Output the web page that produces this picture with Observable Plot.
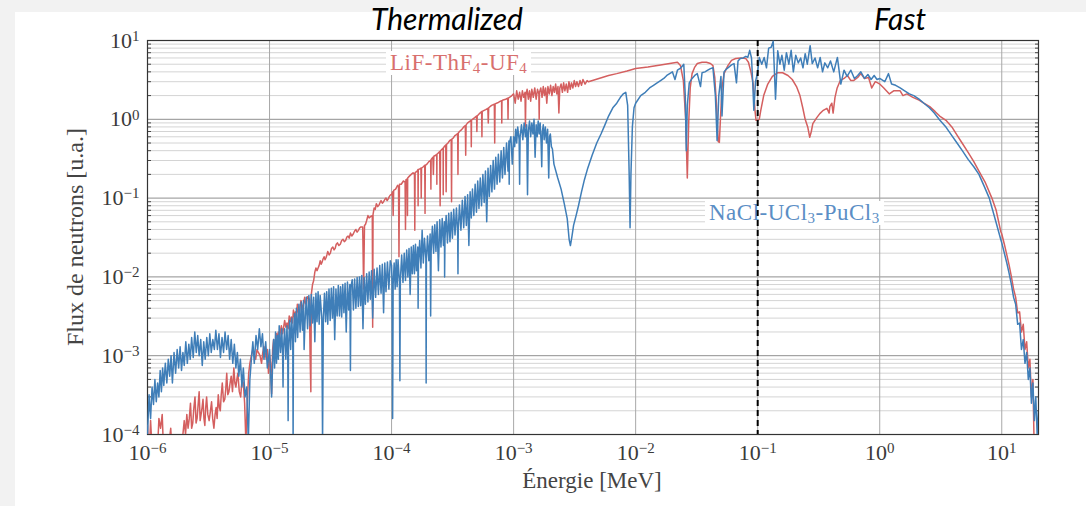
<!DOCTYPE html>
<html><head><meta charset="utf-8">
<script src="https://cdn.jsdelivr.net/npm/d3@7"></script>
<script src="https://cdn.jsdelivr.net/npm/@observablehq/plot@0.6"></script>
<style>
body{margin:0;background:#f2f2f2;}
#wrap{position:relative;width:1086px;height:506px;overflow:hidden;}
#panel{position:absolute;left:15px;top:12px;right:0;bottom:0;background:#fff;}
.layer{position:absolute;left:0;top:0;}
.zone{position:absolute;font-family:Lato,"Open Sans",sans-serif;font-style:italic;font-size:30px;line-height:30px;color:#000;transform:translateX(-50%);white-space:nowrap;}
.lab{position:absolute;background:#fff;font-family:"Liberation Serif",serif;font-size:23px;letter-spacing:0.5px;line-height:24px;padding:0 4px;white-space:nowrap;}
.lab sub{font-size:15px;vertical-align:-3px;line-height:0;}
.axlab{position:absolute;font-family:"Liberation Serif",serif;color:#444;white-space:nowrap;}
</style></head>
<body><div id="wrap"><div id="panel"></div></div>
<script>
// ---------- data ----------
const xTicks = [1e-6,1e-5,1e-4,1e-3,1e-2,1e-1,1e0,1e1];
const yTicks = [1e-4,1e-3,1e-2,1e-1,1e0,1e1];
const yMinorMantissas = [2,3,4,5,6,7,8,9];
const fastThreshold = 0.1; // MeV
const zoneLabels = ["Thermalized","Fast"];
const seriesNames = ["LiF-ThF<sub>4</sub>-UF<sub>4</sub>","NaCl-UCl<sub>3</sub>-PuCl<sub>3</sub>"];
const axisLabels = {x:"Énergie [MeV]", y:"Flux de neutrons [u.a.]"};

// NaCl-UCl3-PuCl3 : [energy MeV, flux]
const naclFlux = [
[1e-6,1e-4],[1.03e-6,3.2e-4],[1.06e-6,1.6e-4],[1.09e-6,4e-4],[1.12e-6,2.4e-4],[1.15e-6,5e-4],[1.18e-6,2.6e-4],[1.21e-6,4.5e-4],[1.24e-6,3e-4],[1.27e-6,6.5e-4],[1.3e-6,3.5e-4],[1.33e-6,7e-4],[1.36e-6,4.2e-4],[1.4e-6,8e-4],[1.44e-6,4.5e-4],[1.48e-6,9e-4],[1.52e-6,5.5e-4],[1.56e-6,1e-3],[1.6e-6,4.5e-4],[1.65e-6,1.1e-3],[1.7e-6,6e-4],[1.75e-6,1.2e-3],[1.8e-6,7e-4],[1.85e-6,1.3e-3],[1.9e-6,6.5e-4],[1.95e-6,1.1e-3],[2e-6,7.5e-4],[2.06e-6,1.5e-3],[2.12e-6,8e-4],[2.18e-6,1.4e-3],[2.24e-6,9e-4],[2.3e-6,1.7e-3],[2.37e-6,9.5e-4],[2.44e-6,2e-3],[2.51e-6,1.1e-3],[2.58e-6,1.8e-3],[2.65e-6,1e-3],[2.73e-6,1.6e-3],[2.81e-6,7.5e-4],[2.89e-6,1.5e-3],[2.97e-6,9e-4],[3.06e-6,1.7e-3],[3.15e-6,1e-3],[3.24e-6,1.9e-3],[3.33e-6,1.1e-3],[3.43e-6,1.6e-3],[3.53e-6,1.2e-3],[3.63e-6,2.1e-3],[3.74e-6,1.2e-3],[3.85e-6,1.9e-3],[3.96e-6,9.5e-4],[4.08e-6,1.7e-3],[4.2e-6,1.1e-3],[4.32e-6,2e-3],[4.45e-6,1.2e-3],[4.58e-6,1.8e-3],[4.71e-6,9e-4],[4.85e-6,1.6e-3],[5e-6,8e-4],[5.15e-6,1.4e-3],[5.3e-6,7e-4],[5.45e-6,1.1e-3],[5.6e-6,5.5e-4],[5.77e-6,9e-4],[5.94e-6,4e-4],[6.1e-6,7e-4],[6.3e-6,3e-4],[6.5e-6,4e-4],[6.7e-6,8e-5],[6.9e-6,5e-4],[7.1e-6,9e-4],[7.3e-6,1.5e-3],[7.5e-6,8e-4],[7.75e-6,1.8e-3],[8e-6,1.2e-3],[8.25e-6,2.2e-3],[8.5e-6,1.3e-3],[8.75e-6,1.9e-3],[9e-6,9e-4],[9.3e-6,1.5e-3],[9.6e-6,7e-4],
[1e-5,1.2e-3],[1.02e-5,6e-4],[1.04e-5,3e-4],[1.06e-5,8e-4],[1.08e-5,1.6e-3],[1.1e-5,7e-4],[1.12e-5,2e-3],[1.14e-5,8e-4],[1.16e-5,1.8e-3],[1.18e-5,9e-4],[1.2e-5,2.4e-3],[1.23e-5,1.1e-3],[1.26e-5,2.2e-3],[1.28e-5,1e-3],[1.29e-5,4e-4],[1.3e-5,1.2e-3],[1.33e-5,2.2e-3],[1.36e-5,9e-4],[1.39e-5,2.4e-3],[1.41e-5,1e-3],[1.42e-5,1.5e-4],[1.43e-5,1.2e-3],[1.46e-5,2.8e-3],[1.49e-5,1.2e-3],[1.52e-5,3e-3],[1.55e-5,1.5e-3],[1.56e-5,8e-5],[1.57e-5,1.8e-3],[1.6e-5,3.4e-3],[1.63e-5,1.5e-3],[1.66e-5,4e-3],[1.7e-5,1.7e-3],[1.74e-5,4.5e-3],[1.78e-5,2e-3],[1.82e-5,4.8e-3],[1.86e-5,2.1e-3],[1.9e-5,5e-3],[1.92e-5,1.2e-3],[1.95e-5,2.5e-3],[2e-5,5.5e-3],[2.05e-5,2.2e-3],[2.1e-5,5.8e-3],[2.15e-5,2.4e-3],[2.2e-5,6e-3],[2.25e-5,2.6e-3],[2.3e-5,5.5e-3],[2.35e-5,1.5e-3],[2.4e-5,6.2e-3],[2.45e-5,2.7e-3],[2.5e-5,6.5e-3],[2.55e-5,2.5e-3],[2.6e-5,5.8e-3],[2.68e-5,3e-3],[2.72e-5,8e-5],[2.76e-5,3e-3],[2.82e-5,6.2e-3],[2.88e-5,2.7e-3],[2.94e-5,6.5e-3],[3e-5,2.5e-3],[3.07e-5,7e-3],[3.14e-5,2.8e-3],[3.21e-5,7.2e-3],[3.28e-5,3e-3],[3.35e-5,7.5e-3],[3.42e-5,1.6e-3],[3.5e-5,7e-3],[3.58e-5,3.2e-3],[3.66e-5,7.8e-3],[3.74e-5,3.2e-3],[3.82e-5,7.5e-3],[3.9e-5,3.1e-3],[3.98e-5,8e-3],[4.07e-5,3.5e-3],[4.16e-5,8.3e-3],[4.25e-5,2e-3],[4.35e-5,8.6e-3],[4.45e-5,3.8e-3],[4.55e-5,8e-3],[4.6e-5,6.5e-4],[4.65e-5,7.5e-3],[4.76e-5,9.2e-3],[4.87e-5,3.8e-3],[4.98e-5,9.4e-3],[5.1e-5,4e-3],[5.22e-5,9.8e-3],[5.34e-5,4.2e-3],[5.46e-5,1e-2],[5.58e-5,4.3e-3],[5.7e-5,1.04e-2],[5.83e-5,2.2e-3],[5.96e-5,9.8e-3],[6.1e-5,4.5e-3],[6.25e-5,1.1e-2],[6.4e-5,4.8e-3],[6.55e-5,1.15e-2],[6.7e-5,5.2e-3],[6.85e-5,1.2e-2],[7e-5,3e-3],[7.2e-5,1.25e-2],[7.4e-5,5.5e-3],[7.6e-5,1.3e-2],[7.8e-5,6e-3],[8e-5,1.4e-2],[8.2e-5,6.2e-3],[8.4e-5,1.45e-2],[8.6e-5,3.5e-3],[8.8e-5,1.5e-2],[9e-5,6.5e-3],[9.25e-5,1.55e-2],[9.5e-5,7e-3],[9.75e-5,1.6e-2],
[1e-4,1.4e-2],[1.01e-4,8e-3],[1.02e-4,1.6e-4],[1.03e-4,8e-3],[1.05e-4,1.5e-2],[1.07e-4,7e-3],[1.09e-4,1.65e-2],[1.11e-4,7.5e-3],[1.13e-4,1.65e-2],[1.16e-4,8.5e-3],[1.17e-4,4.8e-4],[1.18e-4,9e-3],[1.21e-4,1.9e-2],[1.24e-4,8.5e-3],[1.27e-4,2e-2],[1.3e-4,9e-3],[1.33e-4,2.2e-2],[1.36e-4,1e-2],[1.39e-4,2.3e-2],[1.42e-4,6e-3],[1.45e-4,2.4e-2],[1.48e-4,1.1e-2],[1.51e-4,2.5e-2],[1.54e-4,1.1e-2],[1.57e-4,2.6e-2],[1.6e-4,1.2e-2],[1.64e-4,2.4e-2],[1.65e-4,4e-3],[1.66e-4,1.4e-2],[1.7e-4,2.9e-2],[1.74e-4,1.3e-2],[1.78e-4,3.9e-2],[1.82e-4,1.5e-2],[1.86e-4,3.1e-2],[1.91e-4,1.7e-2],[1.92e-4,4.5e-4],[1.93e-4,1.7e-2],[1.97e-4,3.3e-2],[2.02e-4,1.6e-2],[2.07e-4,3.5e-2],[2.09e-4,3.2e-3],[2.11e-4,2.1e-2],[2.16e-4,4.4e-2],[2.21e-4,2e-2],[2.26e-4,4.6e-2],[2.31e-4,2.1e-2],[2.36e-4,5e-2],[2.42e-4,1.2e-2],[2.48e-4,5.3e-2],[2.54e-4,2.4e-2],[2.6e-4,5.5e-2],[2.66e-4,2.5e-2],[2.71e-4,5e-2],[2.72e-4,1e-2],[2.74e-4,3e-2],[2.8e-4,6e-2],[2.87e-4,2.7e-2],[2.94e-4,6.4e-2],[3.01e-4,2.8e-2],[3.08e-4,6.6e-2],[3.15e-4,3.1e-2],[3.23e-4,7.2e-2],[3.31e-4,3.4e-2],[3.4e-4,7.5e-2],[3.48e-4,3.5e-2],[3.5e-4,1.1e-2],[3.52e-4,3.9e-2],[3.6e-4,8.2e-2],[3.7e-4,3.9e-2],[3.8e-4,9.4e-2],[3.9e-4,4.2e-2],[4e-4,1.05e-1],[4.1e-4,4.5e-2],[4.2e-4,1.1e-1],[4.3e-4,2.5e-2],[4.4e-4,1.2e-1],[4.5e-4,5.6e-2],[4.6e-4,1.3e-1],[4.72e-4,6e-2],[4.84e-4,1.5e-1],[4.96e-4,6.6e-2],[5.08e-4,1.65e-1],[5.2e-4,7.4e-2],[5.33e-4,1.8e-1],[5.46e-4,8e-2],[5.6e-4,2e-1],[5.74e-4,8.8e-2],[5.88e-4,2.2e-1],[6.02e-4,5e-2],[6.17e-4,2.4e-1],[6.32e-4,1.05e-1],[6.48e-4,2.6e-1],[6.64e-4,1.2e-1],[6.8e-4,3e-1],[6.97e-4,1.3e-1],[7.14e-4,3.3e-1],[7.32e-4,1.5e-1],[7.5e-4,3.6e-1],[7.7e-4,1.6e-1],[7.9e-4,4e-1],[8.1e-4,1.8e-1],[8.3e-4,4.4e-1],[8.5e-4,2e-1],[8.75e-4,5e-1],[9e-4,2.2e-1],[9.15e-4,5.3e-1],[9.2e-4,1.5e-1],[9.25e-4,5e-1],[9.5e-4,6e-1],[9.75e-4,2.7e-1],
[1e-3,0.6],[1.02e-3,0.45],[1.04e-3,0.75],[1.06e-3,0.5],[1.08e-3,0.8],[1.11e-3,0.55],[1.12e-3,0.15],[1.13e-3,0.6],[1.16e-3,0.85],[1.19e-3,0.55],[1.22e-3,0.9],[1.25e-3,0.6],[1.28e-3,0.85],[1.3e-3,0.11],[1.32e-3,0.7],[1.35e-3,0.95],[1.38e-3,0.6],[1.41e-3,0.9],[1.44e-3,0.65],[1.47e-3,1.0],[1.5e-3,0.33],[1.53e-3,0.85],[1.56e-3,0.6],[1.59e-3,0.95],[1.62e-3,0.65],[1.65e-3,0.9],[1.68e-3,0.5],[1.7e-3,0.25],[1.72e-3,0.7],[1.75e-3,0.85],[1.78e-3,0.55],[1.82e-3,0.8],[1.86e-3,0.5],[1.9e-3,0.75],[1.94e-3,0.18],[1.97e-3,0.6],[2e-3,0.65],[2.04e-3,0.45],[2.08e-3,0.42],[2.14e-3,0.27],[2.3e-3,0.18],[2.45e-3,0.13],[2.6e-3,0.085],[2.75e-3,0.055],[2.85e-3,0.03],[2.92e-3,0.025],[3e-3,0.032],[3.1e-3,0.045],[3.25e-3,0.06],[3.4e-3,0.08],[3.6e-3,0.12],[3.8e-3,0.17],[4.05e-3,0.24],[4.4e-3,0.35],[4.8e-3,0.5],[5.2e-3,0.65],[5.6e-3,0.85],[6e-3,1.1],[6.5e-3,1.4],[7e-3,1.6],[7.5e-3,1.9],[7.9e-3,2.1],[8.3e-3,2.2],[8.6e-3,1.5],[8.85e-3,0.2],[9e-3,0.042],[9.15e-3,0.2],[9.4e-3,0.8],[9.7e-3,1.4],
[1e-2,1.6],[1.1e-2,2.0],[1.2e-2,2.2],[1.3e-2,2.5],[1.4e-2,2.7],[1.5e-2,2.9],[1.6e-2,3.1],[1.7e-2,3.3],[1.8e-2,3.6],[1.9e-2,3.8],[2e-2,4.0],[2.1e-2,3.2],[2.2e-2,4.2],[2.35e-2,4.5],[2.48e-2,5.0],[2.55e-2,2.0],[2.6e-2,0.4],[2.65e-2,1.5],[2.75e-2,2.9],[2.9e-2,3.3],[3.05e-2,3.6],[3.2e-2,3.8],[3.4e-2,2.6],[3.5e-2,3.9],[3.7e-2,4.0],[3.9e-2,4.2],[4.1e-2,4.4],[4.3e-2,4.5],[4.5e-2,2.0],[4.65e-2,0.54],[4.8e-2,2.0],[5e-2,3.5],[5.1e-2,1.1],[5.3e-2,4.0],[5.5e-2,4.3],[5.8e-2,4.6],[6.1e-2,4.9],[6.4e-2,5.1],[6.7e-2,2.9],[6.9e-2,5.5],[7.2e-2,5.9],[7.6e-2,6.0],[8e-2,6.3],[8.3e-2,6.1],[8.6e-2,7.5],[8.9e-2,6.0],[9.1e-2,3.0],[9.3e-2,1.3],[9.6e-2,3.0],
[0.1,4.0],[0.103,6.1],[0.108,5.0],[0.113,6.1],[0.118,4.5],[0.123,8.0],[0.129,8.2],[0.134,9.8],[0.14,1.8],[0.146,7.4],[0.152,5.0],[0.158,6.5],[0.165,4.2],[0.172,7.0],[0.18,5.0],[0.188,7.5],[0.196,4.0],[0.205,6.5],[0.215,5.2],[0.225,6.0],[0.235,4.5],[0.245,6.8],[0.255,5.0],[0.269,8.6],[0.28,5.1],[0.295,6.0],[0.31,4.5],[0.325,6.1],[0.34,4.0],[0.355,5.2],[0.375,4.5],[0.395,5.5],[0.42,4.0],[0.45,6.1],[0.48,2.8],[0.51,4.2],[0.54,3.5],[0.58,4.2],[0.62,3.3],[0.66,3.6],[0.7,4.0],[0.75,3.3],[0.8,3.7],[0.85,3.2],[0.9,3.6],[0.95,3.2],
[1.0,3.3],[1.1,3.0],[1.18,3.8],[1.25,2.8],[1.35,2.7],[1.47,2.5],[1.6,2.3],[1.75,2.1],[1.9,2.0],[2.1,1.8],[2.3,1.6],[2.55,1.4],[2.8,1.2],[3.1,0.98],[3.5,0.79],[3.9,0.62],[4.3,0.5],[4.75,0.4],[5.3,0.31],[5.9,0.25],[6.5,0.2],[7.2,0.14],[7.9,0.1],[8.8,0.055],[9.8,0.03],
[10,2.7e-2],[10.5,2e-2],[11,1.5e-2],[11.5,1.1e-2],[12,8e-3],[12.5,5.5e-3],[13,4.5e-3],[13.5,2.5e-3],[14,2.6e-3],[14.5,1.2e-3],[15,1.6e-3],[15.5,8e-4],[16,1.1e-3],[16.5,5e-4],[17,7e-4],[17.5,2.5e-4],[18,4.5e-4],[18.5,1.5e-4],[19,3e-4],[19.5,1e-4],[20,2e-4]
];

// LiF-ThF4-UF4 : [energy MeV, flux]
const lifFlux = [
[1e-6,1.3e-4],[1.03e-6,5e-5],[1.06e-6,1.5e-4],[1.1e-6,5e-5],[1.2e-6,5e-5],[1.24e-6,1.6e-4],[1.28e-6,1.2e-4],[1.32e-6,1.8e-4],[1.36e-6,5e-5],[1.45e-6,5e-5],[1.55e-6,1.2e-4],[1.6e-6,5e-5],[1.8e-6,5e-5],[1.95e-6,1e-4],[2e-6,1.5e-4],[2.05e-6,1e-4],[2.1e-6,1.8e-4],[2.15e-6,1.2e-4],[2.2e-6,1.6e-4],[2.25e-6,2.5e-4],[2.3e-6,1.2e-4],[2.35e-6,1.4e-4],[2.4e-6,2.2e-4],[2.45e-6,3e-4],[2.5e-6,1.4e-4],[2.55e-6,1.6e-4],[2.6e-6,2.4e-4],[2.65e-6,3.5e-4],[2.7e-6,1.5e-4],[2.75e-6,1.8e-4],[2.8e-6,2.2e-4],[2.85e-6,2.8e-4],[2.9e-6,1.6e-4],[2.95e-6,1.3e-4],[3e-6,2.2e-4],[3.05e-6,3e-4],[3.12e-6,1.8e-4],[3.2e-6,1.5e-4],[3.28e-6,2e-4],[3.35e-6,2.6e-4],[3.42e-6,1.6e-4],[3.5e-6,1.2e-4],[3.58e-6,1.8e-4],[3.65e-6,2.2e-4],[3.72e-6,1.6e-4],[3.8e-6,3.2e-4],[3.88e-6,2.2e-4],[3.95e-6,2e-4],[4.02e-6,3.2e-4],[4.1e-6,4.5e-4],[4.2e-6,2.6e-4],[4.3e-6,2.8e-4],[4.38e-6,3.8e-4],[4.46e-6,6e-4],[4.55e-6,3.2e-4],[4.65e-6,3.5e-4],[4.75e-6,4.5e-4],[4.85e-6,5.5e-4],[4.97e-6,3.5e-4],[5.1e-6,7e-4],[5.2e-6,4.5e-4],[5.3e-6,4e-4],[5.4e-6,5e-4],[5.5e-6,6e-4],[5.65e-6,3.5e-4],[5.8e-6,3e-4],[5.95e-6,5e-4],[6.1e-6,4.5e-4],[6.25e-6,2.5e-4],[6.4e-6,8e-5],[6.6e-6,3e-4],[6.75e-6,6e-4],[6.9e-6,8e-4],[7.1e-6,1e-3],[7.3e-6,1.2e-3],[7.5e-6,1e-3],[7.7e-6,9e-4],[7.9e-6,1.2e-3],[8.1e-6,1.1e-3],[8.35e-6,1e-3],[8.6e-6,8e-4],[8.8e-6,1.1e-3],[9e-6,1.3e-3],[9.2e-6,1.1e-3],[9.4e-6,9e-4],[9.6e-6,1.2e-3],[9.8e-6,6e-4],
[1e-5,1e-3],[1.02e-5,8e-4],[1.04e-5,3.3e-4],[1.06e-5,1.2e-3],[1.08e-5,1.6e-3],[1.1e-5,1.2e-3],[1.12e-5,1.4e-3],[1.14e-5,1.9e-3],[1.16e-5,1.7e-3],[1.18e-5,2e-3],[1.2e-5,1.6e-3],[1.23e-5,2.1e-3],[1.25e-5,2.4e-3],[1.28e-5,1.9e-3],[1.3e-5,2.2e-3],[1.33e-5,2.8e-3],[1.36e-5,2.3e-3],[1.39e-5,2.6e-3],[1.42e-5,2.2e-3],[1.45e-5,3.2e-3],[1.48e-5,2.7e-3],[1.51e-5,3.1e-3],[1.54e-5,2.6e-3],[1.57e-5,3.8e-3],[1.6e-5,3.1e-3],[1.63e-5,3.6e-3],[1.66e-5,3e-3],[1.69e-5,4.5e-3],[1.72e-5,3.6e-3],[1.75e-5,3.4e-3],[1.78e-5,4.2e-3],[1.81e-5,5e-3],[1.85e-5,4.2e-3],[1.88e-5,3.8e-3],[1.91e-5,4.8e-3],[1.94e-5,5.5e-3],[1.97e-5,4.6e-3],[2e-5,4.5e-3],[2.04e-5,5.6e-3],[2.08e-5,5.5e-3],[2.12e-5,5.2e-3],[2.15e-5,1e-3],[2.18e-5,3.5e-4],[2.2e-5,6e-3],[2.25e-5,8e-3],[2.3e-5,9e-3],[2.35e-5,1.15e-2],[2.4e-5,1.3e-2],[2.45e-5,1.2e-2],[2.5e-5,1.3e-2],[2.55e-5,1.4e-2],[2.6e-5,1.6e-2],[2.65e-5,1.45e-2],[2.7e-5,1.55e-2],[2.75e-5,1.7e-2],[2.8e-5,1.8e-2],[2.85e-5,1.65e-2],[2.9e-5,1.75e-2],[2.95e-5,1.9e-2],[3e-5,2.1e-2],[3.08e-5,1.9e-2],[3.15e-5,2e-2],[3.22e-5,2.3e-2],[3.3e-5,2.4e-2],[3.38e-5,2.2e-2],[3.45e-5,2.3e-2],[3.52e-5,2.6e-2],[3.6e-5,2.7e-2],[3.7e-5,2.5e-2],[3.8e-5,2.6e-2],[3.9e-5,2.9e-2],[4e-5,3e-2],[4.1e-5,2.8e-2],[4.2e-5,2.9e-2],[4.3e-5,3.2e-2],[4.4e-5,3.3e-2],[4.5e-5,3.1e-2],[4.6e-5,3.6e-2],[4.72e-5,3.3e-2],[4.85e-5,3.5e-2],[4.97e-5,3.8e-2],[5.1e-5,4e-2],[5.22e-5,3.7e-2],[5.35e-5,3.9e-2],[5.48e-5,4.2e-2],[5.6e-5,4.3e-2],[5.8e-5,4.3e-2],[5.9e-5,7e-3],[6e-5,4.5e-2],[6.1e-5,4.6e-2],[6.25e-5,5.2e-2],[6.4e-5,6e-2],[6.55e-5,5.6e-2],[6.7e-5,5.8e-2],[6.95e-5,6e-2],[7e-5,2.3e-3],[7.05e-5,6.2e-2],[7.2e-5,7.5e-2],[7.35e-5,7.2e-2],[7.5e-5,8.5e-2],[7.7e-5,7.8e-2],[7.9e-5,8.2e-2],[8.05e-5,8.8e-2],[8.2e-5,9.3e-2],[8.4e-5,8.6e-2],[8.6e-5,9e-2],[8.8e-5,9.6e-2],[9e-5,1e-1],[9.2e-5,9.3e-2],[9.4e-5,9.8e-2],[9.6e-5,1.05e-1],[9.8e-5,1.1e-1],
[1e-4,0.11],[1.02e-4,0.12],[1.03e-4,0.06],[1.04e-4,0.125],[1.08e-4,0.13],[1.12e-4,0.145],[1.14e-4,0.14],[1.15e-4,0.018],[1.16e-4,0.15],[1.2e-4,0.15],[1.25e-4,0.165],[1.29e-4,0.16],[1.3e-4,0.04],[1.31e-4,0.17],[1.345e-4,0.175],[1.35e-4,0.06],[1.355e-4,0.18],[1.4e-4,0.19],[1.45e-4,0.2],[1.5e-4,0.21],[1.54e-4,0.2],[1.55e-4,0.039],[1.56e-4,0.21],[1.62e-4,0.22],[1.645e-4,0.23],[1.65e-4,0.08],[1.655e-4,0.23],[1.7e-4,0.235],[1.74e-4,0.24],[1.75e-4,0.1],[1.76e-4,0.24],[1.82e-4,0.25],[1.87e-4,0.26],[1.88e-4,0.064],[1.89e-4,0.26],[1.95e-4,0.27],[2.02e-4,0.29],[2.09e-4,0.3],[2.1e-4,0.13],[2.11e-4,0.31],[2.18e-4,0.33],[2.2e-4,0.2],[2.22e-4,0.34],[2.3e-4,0.35],[2.345e-4,0.36],[2.35e-4,0.15],[2.355e-4,0.36],[2.4e-4,0.37],[2.48e-4,0.39],[2.5e-4,0.08],[2.52e-4,0.4],[2.6e-4,0.42],[2.645e-4,0.43],[2.65e-4,0.11],[2.655e-4,0.43],[2.7e-4,0.45],[2.78e-4,0.47],[2.8e-4,0.12],[2.82e-4,0.48],[2.9e-4,0.5],[3e-4,0.54],[3.08e-4,0.55],[3.1e-4,0.09],[3.12e-4,0.56],[3.2e-4,0.58],[3.3e-4,0.62],[3.4e-4,0.64],[3.48e-4,0.66],[3.5e-4,0.2],[3.52e-4,0.67],[3.6e-4,0.7],[3.75e-4,0.74],[3.9e-4,0.8],[4.02e-4,0.83],[4.05e-4,0.35],[4.08e-4,0.85],[4.2e-4,0.9],[4.4e-4,0.95],[4.48e-4,0.97],[4.5e-4,0.45],[4.52e-4,0.98],[4.6e-4,1.0],[4.8e-4,1.05],[4.97e-4,1.1],[5e-4,0.7],[5.03e-4,1.1],[5.3e-4,1.2],[5.47e-4,1.25],[5.5e-4,0.6],[5.53e-4,1.26],[5.9e-4,1.33],[6.15e-4,1.38],[6.2e-4,0.9],[6.25e-4,1.4],[6.6e-4,1.5],[6.95e-4,1.55],[7e-4,0.5],[7.05e-4,1.57],[7.4e-4,1.62],[7.8e-4,1.7],[7.97e-4,1.72],[8e-4,0.9],[8.03e-4,1.73],[8.2e-4,1.76],[8.6e-4,1.8],[8.95e-4,1.85],[9e-4,1.0],[9.05e-4,1.86],[9.5e-4,1.95],
[1e-3,2.1],[1.03e-3,1.6],[1.06e-3,2.3],[1.09e-3,1.8],[1.12e-3,2.2],[1.15e-3,1.7],[1.18e-3,2.3],[1.21e-3,1.9],[1.24e-3,2.2],[1.25e-3,0.8],[1.26e-3,2.0],[1.29e-3,2.4],[1.32e-3,1.8],[1.35e-3,2.3],[1.38e-3,1.7],[1.41e-3,2.4],[1.45e-3,1.9],[1.49e-3,2.5],[1.53e-3,1.8],[1.57e-3,2.4],[1.61e-3,2.1],[1.62e-3,1.0],[1.63e-3,2.2],[1.67e-3,2.5],[1.71e-3,1.9],[1.75e-3,2.6],[1.79e-3,2.0],[1.83e-3,2.5],[1.87e-3,1.6],[1.91e-3,2.6],[1.96e-3,2.1],[2.01e-3,2.7],[2.06e-3,2.0],[2.11e-3,2.6],[2.16e-3,2.2],[2.21e-3,2.8],[2.26e-3,2.1],[2.31e-3,2.6],[2.35e-3,1.2],[2.39e-3,2.5],[2.45e-3,2.8],[2.51e-3,2.2],[2.57e-3,2.9],[2.63e-3,2.3],[2.7e-3,2.8],[2.77e-3,2.2],[2.84e-3,3.0],[2.91e-3,2.4],[2.98e-3,2.9],[3.06e-3,2.5],[3.14e-3,3.1],[3.22e-3,2.6],[3.3e-3,3.0],[3.4e-3,2.6],[3.5e-3,3.1],[3.6e-3,2.7],[3.7e-3,3.2],[3.85e-3,2.8],[4e-3,3.1],[4.1e-3,3.0],[5e-3,3.3],[6e-3,3.6],[7e-3,3.8],[8.5e-3,4.1],
[1e-2,4.4],[1.26e-2,4.6],[1.6e-2,4.9],[1.9e-2,5.1],[2.2e-2,5.3],[2.33e-2,4.8],[2.46e-2,3.1],[2.57e-2,1.0],[2.65e-2,0.18],[2.72e-2,0.9],[2.8e-2,2.5],[2.9e-2,3.8],[3.05e-2,4.6],[3.2e-2,5.1],[3.5e-2,5.3],[3.8e-2,5.3],[4.1e-2,5.1],[4.3e-2,4.8],[4.45e-2,3.4],[4.6e-2,1.5],[4.75e-2,0.52],[4.85e-2,0.51],[4.95e-2,1.0],[5.1e-2,2.5],[5.3e-2,3.8],[5.7e-2,4.8],[6.1e-2,5.6],[6.6e-2,5.9],[7.3e-2,6.0],[8e-2,5.9],[8.4e-2,5.3],[8.8e-2,4.0],[9.2e-2,2.8],[9.5e-2,1.3],[9.7e-2,0.97],
[0.1,0.97],[0.103,1.0],[0.106,1.3],[0.112,2.0],[0.121,2.8],[0.132,3.5],[0.146,3.9],[0.16,3.9],[0.177,3.6],[0.192,3.2],[0.208,2.6],[0.222,2.0],[0.234,1.4],[0.245,1.0],[0.257,0.8],[0.267,0.59],[0.275,0.7],[0.283,0.88],[0.305,1.05],[0.323,1.18],[0.345,1.3],[0.369,1.38],[0.385,1.2],[0.39,1.45],[0.405,1.6],[0.415,1.2],[0.43,1.9],[0.448,2.5],[0.475,3.1],[0.51,3.3],[0.544,3.6],[0.58,3.1],[0.61,3.1],[0.66,3.4],[0.7,3.8],[0.75,3.3],[0.81,3.4],[0.86,2.5],[0.92,3.0],[0.98,2.85],
[1.0,2.8],[1.08,2.5],[1.2,2.1],[1.3,2.3],[1.47,2.3],[1.55,2.0],[1.67,2.1],[1.87,1.9],[2.1,1.75],[2.3,1.6],[2.57,1.45],[2.85,1.25],[3.1,1.1],[3.49,0.97],[3.9,0.8],[4.3,0.63],[4.73,0.5],[5.3,0.38],[5.9,0.29],[6.5,0.22],[7.3,0.16],[8.3,0.1],[9.0,0.07],[9.8,0.038],
[10,3.5e-2],[10.5,2.6e-2],[11,1.9e-2],[11.5,1.4e-2],[12,1e-2],[12.5,7e-3],[13,5.5e-3],[13.5,3.5e-3],[14,3.6e-3],[14.5,2e-3],[15,2.5e-3],[15.5,1.2e-3],[16,1.5e-3],[16.5,7e-4],[17,9e-4],[17.5,3e-4],[18,5e-4],[18.5,5e-5]
];

// ---------- layout ----------
const colors = {lif:"#d45f5f", nacl:"#3f7eb8", lifText:"#d8706e", naclText:"#5b8ec5"};
const yMinor = [];
for (const d of yTicks.slice(0,-1)) for (const m of yMinorMantissas) yMinor.push(d*m);
const sup = e => "10^" + Math.round(Math.log10(e));

const common = {
  width:1086, height:506, marginTop:40, marginRight:48, marginBottom:72, marginLeft:147,
  x:{type:"log", domain:[1e-6,20]},
  y:{type:"log", domain:[1e-4,10]}
};

const back = Plot.plot({
  ...common,
  style:{background:"transparent", color:"#3a3a3a", fontFamily:"'Liberation Serif', serif", fontSize:"22px"},
  marks:[
    Plot.gridY(yMinor,{stroke:"#d4d4d4", strokeOpacity:1}),
    Plot.gridY(yTicks,{stroke:"#8f8f8f", strokeOpacity:1}),
    Plot.gridX(xTicks,{stroke:"#a8a8a8", strokeOpacity:1}),
    Plot.axisY(yMinor,{anchor:"left", tickSize:-4, tickFormat:()=>"", stroke:"#444"}),
    Plot.axisY(yMinor,{anchor:"right", tickSize:-4, tickFormat:()=>"", stroke:"#444"}),
    Plot.axisX(xTicks,{anchor:"bottom", tickSize:0, tickPadding:10, tickFormat:sup, fontSize:22}),
    Plot.axisY(yTicks,{anchor:"left", tickSize:0, tickPadding:8, tickFormat:sup, fontSize:22}),
    Plot.frame({stroke:"#333", strokeWidth:1.2})
  ]
});
back.classList.add("layer");

const front = Plot.plot({
  ...common,
  x:{...common.x, axis:null},
  y:{...common.y, axis:null},
  style:{background:"transparent"},
  marks:[
    Plot.line(lifFlux,{x:d=>d[0], y:d=>d[1], stroke:colors.lif, strokeWidth:1.5, clip:true}),
    Plot.line(naclFlux,{x:d=>d[0], y:d=>d[1], stroke:colors.nacl, strokeWidth:1.5, clip:true}),
    Plot.ruleX([fastThreshold],{stroke:"#000", strokeWidth:2, strokeDasharray:"6,4"})
  ]
});
front.classList.add("layer");

// superscript exponents on tick labels
const NS = "http://www.w3.org/2000/svg";
back.querySelectorAll("text").forEach(t => {
  const m = t.textContent.match(/^10\^(-?\d+)$/);
  if (!m) return;
  t.textContent = "10";
  const ts = document.createElementNS(NS,"tspan");
  ts.setAttribute("dy","-0.45em");
  ts.setAttribute("font-size","15");
  ts.textContent = m[1].replace("-","\u2212");
  t.appendChild(ts);
});

const wrap = document.getElementById("wrap");
wrap.appendChild(back);

function addDiv(cls, html, css){
  const d = document.createElement("div");
  d.className = cls; d.innerHTML = html; Object.assign(d.style, css);
  wrap.appendChild(d); return d;
}
addDiv("lab", seriesNames[0], {left:"386px", top:"51px", color:colors.lifText});
addDiv("lab", seriesNames[1], {left:"705px", top:"201px", color:colors.naclText});
wrap.appendChild(front);
addDiv("zone", zoneLabels[0], {left:"447px", top:"3px"});
addDiv("zone", zoneLabels[1], {left:"900px", top:"3px"});
addDiv("axlab", axisLabels.x, {left:"592px", top:"468px", fontSize:"23px", transform:"translateX(-50%)"});
addDiv("axlab", axisLabels.y, {left:"75px", top:"237px", fontSize:"24px", transform:"translate(-50%,-50%) rotate(-90deg)"});
</script>
</body></html>
